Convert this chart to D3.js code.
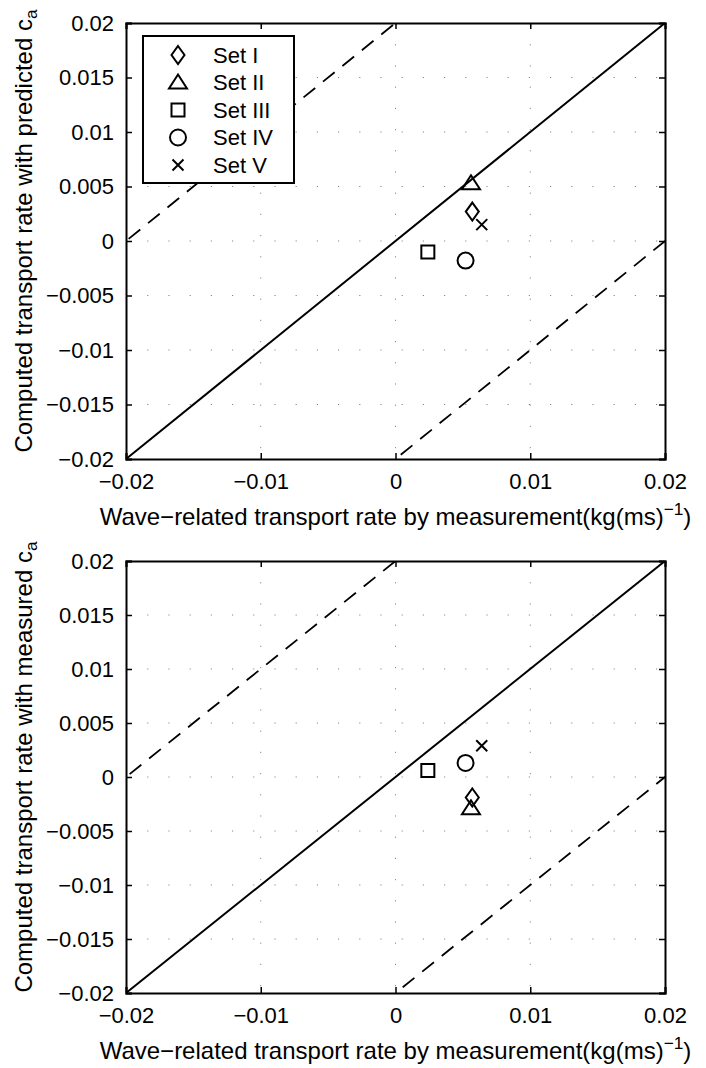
<!DOCTYPE html>
<html>
<head>
<meta charset="utf-8">
<script src="https://cdn.jsdelivr.net/npm/d3@7"></script>
<style>
  html, body { margin: 0; padding: 0; background: #fff; }
  svg { display: block; }
  text { font-family: "Liberation Sans", Arial, Helvetica, sans-serif; fill: #000; }
</style>
</head>
<body>
<svg id="chart" width="706" height="1068"></svg>
<script>
"use strict";

// ─── Data ─────────────────────────────────────────────────────────────────────
const sets = ["Set I", "Set II", "Set III", "Set IV", "Set V"];
const markers = ["diamond", "triangle", "square", "circle", "cross"];
const measured = [0.0057, 0.0056, 0.0024, 0.0052, 0.0064];      // x, both panels
const computedPredicted = [0.0027, 0.0053, -0.0010, -0.0018, 0.0015];
const computedMeasured = [-0.0019, -0.0029, 0.0006, 0.0013, 0.0029];
const ticksX = [-0.02, -0.01, 0, 0.01, 0.02];
const ticksY = [-0.02, -0.015, -0.01, -0.005, 0, 0.005, 0.01, 0.015, 0.02];
const bandOffsets = [0.02, -0.02];   // dashed lines y = x ± 0.02

const panels = [
  { top: 23,  bottom: 459, ys: computedPredicted, label: "predicted", legend: true },
  { top: 561, bottom: 993, ys: computedMeasured,  label: "measured",  legend: false },
];

const FS = 22;      // tick + legend text
const LFS = 24;     // axis labels
const left = 126, right = 665;
const svg = d3.select("#chart");

function fmt(v) {
  if (v === 0) return "0";
  return (v < 0 ? "\u2212" : "") + String(Math.abs(v));
}

function markerPath(type) {
  switch (type) {
    case "diamond":  return "M0,-9L6.5,0L0,9L-6.5,0Z";
    case "triangle": return "M0,-8L9,6L-9,6Z";
    case "square":   return "M-6.5,-6.5H6.5V6.5H-6.5Z";
    case "circle":   return d3.arc()({ innerRadius: 0, outerRadius: 8, startAngle: 0, endAngle: 2 * Math.PI });
    case "cross":    return "M-5.5,-5.5L5.5,5.5M5.5,-5.5L-5.5,5.5";
  }
}

panels.forEach((p, pi) => {
  const x = d3.scaleLinear().domain([-0.02, 0.02]).range([left, right]);
  const y = d3.scaleLinear().domain([-0.02, 0.02]).range([p.bottom, p.top]);
  const g = svg.append("g");

  const clipId = "clip" + pi;
  g.append("clipPath").attr("id", clipId)
    .append("rect").attr("x", left).attr("y", p.top)
    .attr("width", right - left).attr("height", p.bottom - p.top);

  // dotted grid (faint, as in the scan)
  const grid = g.append("g").attr("stroke", "#888").attr("stroke-width", 1)
    .attr("stroke-dasharray", "1.2,20");
  grid.selectAll("line.gx").data(ticksX.slice(1, -1)).join("line")
    .attr("class", "gx")
    .attr("x1", d => x(d)).attr("x2", d => x(d))
    .attr("y1", p.top).attr("y2", p.bottom);
  grid.selectAll("line.gy").data(ticksY.slice(1, -1)).join("line")
    .attr("class", "gy")
    .attr("y1", d => y(d)).attr("y2", d => y(d))
    .attr("x1", left).attr("x2", right);

  // 1:1 line and ±0.02 band
  const lines = g.append("g").attr("clip-path", `url(#${clipId})`);
  lines.append("line")
    .attr("x1", x(-0.02)).attr("y1", y(-0.02))
    .attr("x2", x(0.02)).attr("y2", y(0.02))
    .attr("stroke", "#000").attr("stroke-width", 2);
  lines.selectAll("line.band").data(bandOffsets).join("line")
    .attr("class", "band")
    .attr("x1", x(-0.04)).attr("y1", d => y(-0.04 + d))
    .attr("x2", x(0.04)).attr("y2", d => y(0.04 + d))
    .attr("stroke", "#000").attr("stroke-width", 1.8)
    .attr("stroke-dasharray", "15,10");

  // axes (ticks inside, box on)
  const tl = 6;
  g.append("g").attr("transform", `translate(0,${p.bottom})`)
    .call(d3.axisBottom(x).tickValues(ticksX).tickSize(-tl).tickPadding(tl + 8).tickFormat(fmt));
  g.append("g").attr("transform", `translate(0,${p.top})`)
    .call(d3.axisTop(x).tickValues(ticksX).tickSize(-tl).tickFormat(""));
  g.append("g").attr("transform", `translate(${left},0)`)
    .call(d3.axisLeft(y).tickValues(ticksY).tickSize(-tl).tickPadding(tl + 6).tickFormat(fmt));
  g.append("g").attr("transform", `translate(${right},0)`)
    .call(d3.axisRight(y).tickValues(ticksY).tickSize(-tl).tickFormat(""));
  g.selectAll(".domain").attr("stroke", "#000").attr("stroke-width", 2);
  g.selectAll(".tick line").attr("stroke", "#000").attr("stroke-width", 1.5);
  g.selectAll(".tick text").attr("font-size", FS).attr("font-family", null);

  // points
  g.selectAll("path.pt").data(sets).join("path")
    .attr("class", "pt")
    .attr("transform", (d, i) => `translate(${x(measured[i])},${y(p.ys[i])})`)
    .attr("d", (d, i) => markerPath(markers[i]))
    .attr("fill", "none").attr("stroke", "#000").attr("stroke-width", 2);

  // x label
  const xl = g.append("text")
    .attr("x", (left + right) / 2).attr("y", p.bottom + 66)
    .attr("text-anchor", "middle").attr("font-size", LFS);
  xl.append("tspan").text("Wave\u2212related transport rate by measurement(kg(ms)");
  xl.append("tspan").attr("dy", -10).attr("font-size", LFS * 0.72).text("\u22121");
  xl.append("tspan").attr("dy", 10).text(")");

  // y label
  const yl = g.append("text")
    .attr("transform", `translate(32,${(p.top + p.bottom) / 2 - 10}) rotate(-90)`)
    .attr("text-anchor", "middle").attr("font-size", LFS);
  yl.append("tspan").text(`Computed transport rate with ${p.label} c`);
  yl.append("tspan").attr("dy", 5).attr("font-size", LFS * 0.72).text("a");

  // legend
  if (p.legend) {
    const lg = g.append("g");
    lg.append("rect").attr("x", 143).attr("y", 36).attr("width", 151).attr("height", 147)
      .attr("fill", "#fff").attr("stroke", "#000").attr("stroke-width", 2);
    const rowY = d3.scaleLinear().domain([0, sets.length - 1]).range([55, 165]);
    const rows = lg.selectAll("g.row").data(sets).join("g")
      .attr("class", "row")
      .attr("transform", (d, i) => `translate(0,${rowY(i)})`);
    rows.append("path")
      .attr("transform", "translate(178,0)")
      .attr("d", (d, i) => markerPath(markers[i]))
      .attr("fill", "none").attr("stroke", "#000").attr("stroke-width", 2);
    rows.append("text").attr("x", 213).attr("dy", "0.36em")
      .attr("font-size", FS).text(d => d);
  }
});
</script>
</body>
</html>
